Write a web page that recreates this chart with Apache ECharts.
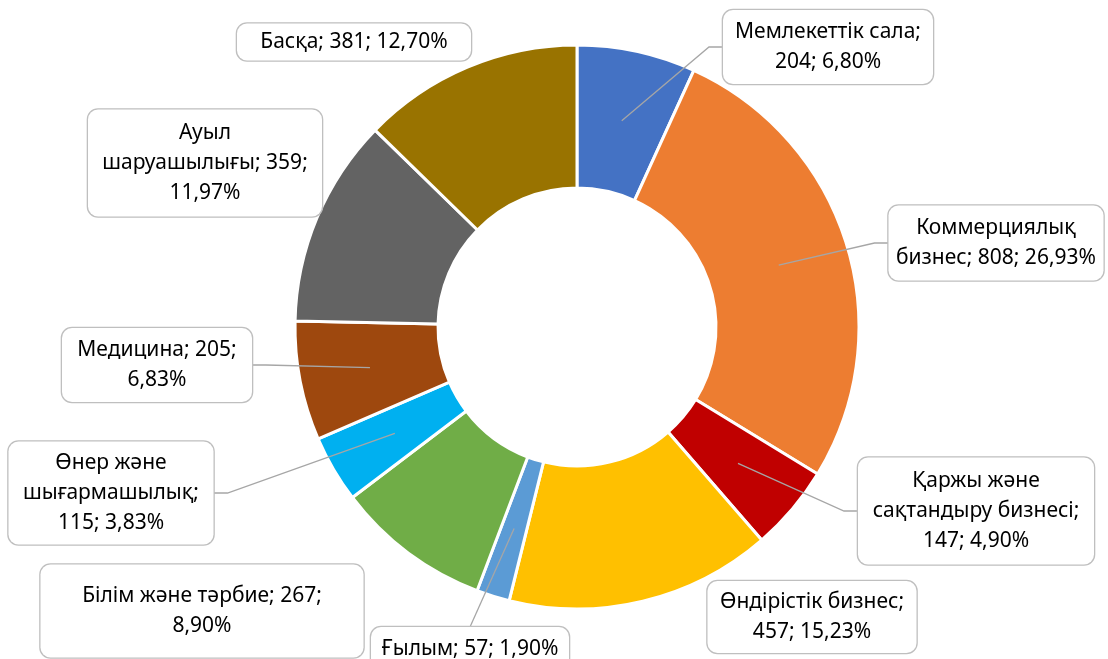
<!DOCTYPE html>
<html>
<head>
<meta charset="utf-8">
<script src="https://cdn.jsdelivr.net/npm/echarts@6/dist/echarts.min.js"></script>
<style>
  html, body { margin: 0; padding: 0; background: #fff; }
  #main { width: 1108px; height: 659px; }
</style>
</head>
<body>
<div id="main"></div>
<script>
// категориялар мен мәндер
const names = ['Мемлекеттік сала', 'Коммерциялық\nбизнес', 'Қаржы және\nсақтандыру бизнесі', 'Өндірістік бизнес', 'Ғылым',
               'Білім және тәрбие', 'Өнер және\nшығармашылық', 'Медицина', 'Ауыл\nшаруашылығы', 'Басқа'];
const values = [204, 808, 147, 457, 57, 267, 115, 205, 359, 381];
const colors = ['#4472C4', '#ED7D31', '#C00000', '#FFC000', '#5B9BD5', '#70AD47', '#00B0F0', '#9E480E', '#636363', '#997300'];

// where the label text breaks
const templates = ['{n};\n{v}; {p}', '{n}; {v}; {p}', '{n};\n{v}; {p}', '{n};\n{v}; {p}', '{n}; {v}; {p}',
                   '{n}; {v};\n{p}', '{n};\n{v}; {p}', '{n}; {v};\n{p}', '{n}; {v};\n{p}', '{n}; {v}; {p}'];
// label boxes: centre x, centre y, width, height
const boxes = [[828, 47, 210, 74], [996, 243, 215, 75], [976, 511, 236, 107], [812, 617, 209, 72], [470, 649, 198, 44],
               [202, 611, 323, 93], [111, 493, 205, 103], [157, 365, 190, 74], [205, 163, 234, 107], [354, 42, 234, 37]];
const withLine = [true, true, true, false, true, false, true, true, false, false];

const LINE_H = 30;
const total = values.reduce((a, b) => a + b, 0);

function labelText(i) {
    const pct = (values[i] / total * 100).toFixed(2).replace('.', ',') + '%';
    return templates[i].replace('{n}', names[i]).replace('{v}', values[i]).replace('{p}', pct);
}

const ringData = values.map(function (v, i) {
    return { name: names[i], value: v, itemStyle: { color: colors[i] } };
});

// invisible inner pie only carries the labels, so leader lines start mid-ring
const labelData = values.map(function (v, i) {
    const lines = labelText(i).split('\n').length;
    const b = boxes[i];
    const padY = (b[3] - lines * LINE_H) / 2;
    return {
        name: names[i],
        value: v,
        label: { width: b[2] - 16, padding: [padY, 8, padY, 8] },
        labelLine: { show: withLine[i] }
    };
});

const chart = echarts.init(document.getElementById('main'));

chart.setOption({
    animation: false,
    series: [
        {
            type: 'pie',
            z: 2,
            center: [577, 327],
            radius: [139, 282],
            startAngle: 90,
            clockwise: true,
            silent: true,
            label: { show: false },
            labelLine: { show: false },
            itemStyle: { borderColor: '#fff', borderWidth: 3 },
            data: ringData
        },
        {
            type: 'pie',
            z: 10,
            center: [577, 327],
            radius: [0, 211],
            startAngle: 90,
            clockwise: true,
            silent: true,
            avoidLabelOverlap: false,
            itemStyle: { color: 'rgba(0,0,0,0)', borderWidth: 0 },
            label: {
                show: true,
                position: 'outside',
                formatter: function (p) { return labelText(p.dataIndex); },
                fontFamily: 'Noto Sans',
                fontSize: 21,
                lineHeight: LINE_H,
                color: '#000',
                align: 'center',
                overflow: 'none',
                backgroundColor: '#fff',
                borderColor: '#bfbfbf',
                borderWidth: 1.3,
                borderRadius: 10
            },
            labelLine: {
                show: true,
                length: 10,
                length2: 10,
                lineStyle: { color: '#a6a6a6', width: 1.3 }
            },
            labelLayout: function (params) {
                const i = params.dataIndex;
                const b = boxes[i];
                const res = { x: b[0], y: b[1], align: 'center', verticalAlign: 'middle' };
                const pts = params.labelLinePoints;
                if (withLine[i] && pts) {
                    const p0 = pts[0];
                    const left = b[0] - b[2] / 2, right = b[0] + b[2] / 2, top = b[1] - b[3] / 2;
                    let mid, end;
                    if (p0[0] < left) {
                        end = [left, b[1]]; mid = [left - 14, b[1]];
                    } else if (p0[0] > right) {
                        end = [right, b[1]]; mid = [right + 14, b[1]];
                    } else {
                        end = [b[0], top]; mid = end;
                    }
                    res.labelLinePoints = [p0, mid, end];
                }
                return res;
            },
            data: labelData
        }
    ]
});
</script>
</body>
</html>
